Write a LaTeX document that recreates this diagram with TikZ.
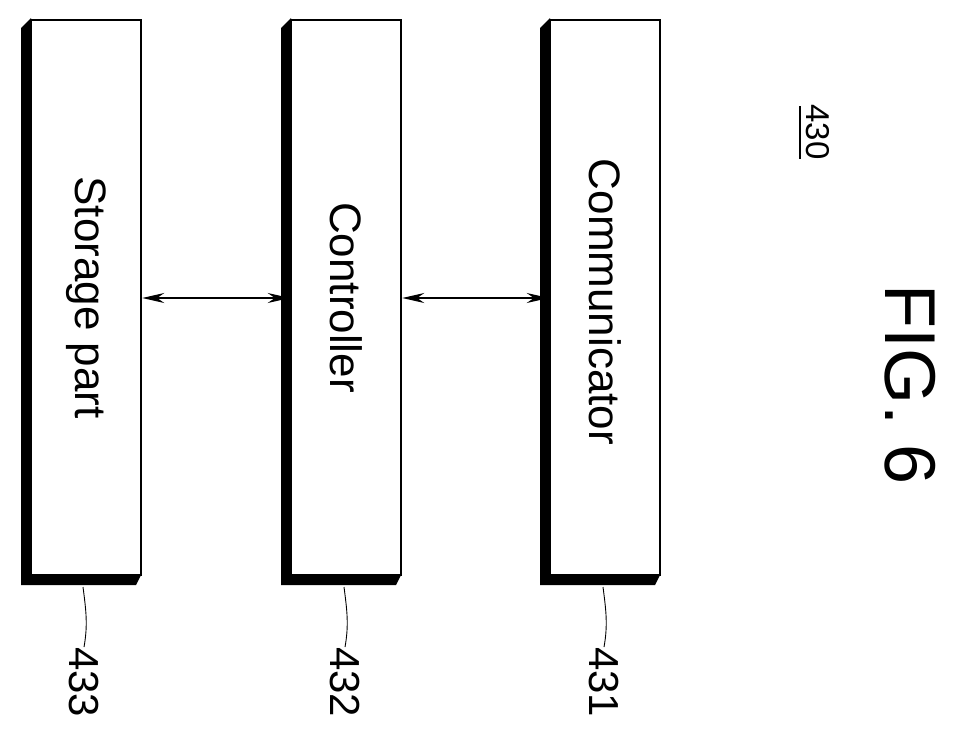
\documentclass[tikz,border=0pt]{standalone}
\usepackage{fontspec}
\setmainfont{Liberation Sans}
\usetikzlibrary{arrows.meta}
\begin{document}
\begin{tikzpicture}[x=1pt,y=-1pt,
  blk/.style={draw,line width=2.5pt,fill=white,minimum width=110pt,minimum height=555pt,inner sep=0pt,
    font=\fontsize{44}{48}\selectfont},
  shd/.style={fill=black},
  lbl/.style={rotate=-90,font=\fontsize{42}{46}\selectfont,inner sep=0pt},
  arr/.style={<->,>={Stealth[length=22pt,width=10pt]},line width=1.3pt}]
\useasboundingbox (0,0) rectangle (958,747);
\foreach \n/\x in {s/86,c/346,m/605}{
  \fill (\x-65,28) -- (\x-55,18) -- (\x-55,575) -- (\x+55,575) -- (\x+50,585) -- (\x-65,585) -- cycle;
}
\node[blk] (s) at (86,297.5) {};
\node[blk] (c) at (346,297.5) {};
\node[blk] (m) at (605,297.5) {};
\node[rotate=-90,font=\fontsize{44}{48}\selectfont] (st) at (s.center) {Storage part};
\node[rotate=-90,font=\fontsize{44}{48}\selectfont] (ct) at (c.center) {Controller};
\node[rotate=-90,font=\fontsize{44}{48}\selectfont] (mt) at (605,302) {Communicator};
\draw[arr] (s.east |- 0,298) -- (c.west |- 0,298);
\draw[arr] (c.east |- 0,298) -- (m.west |- 0,298);
\node[lbl,anchor=west] (l3) at (84,647) {433};
\node[lbl,anchor=west] (l2) at (345,647) {432};
\node[lbl,anchor=west] (l1) at (604,647) {431};
\draw[line width=0.9pt] (83,587) .. controls (86,610) and (88,625) .. (l3.west);
\draw[line width=0.9pt] (344,587) .. controls (347,610) and (349,625) .. (l2.west);
\draw[line width=0.9pt] (603,587) .. controls (606,610) and (608,625) .. (l1.west);
\node[rotate=-90,font=\fontsize{33}{36}\selectfont,inner sep=0pt] (n430) at (818,132) {430};
\draw[line width=1.5pt] (800,106) -- (800,159);
\node[rotate=-90,font=\fontsize{72}{76}\selectfont] (fig) at (910,385) {FIG. 6};
\end{tikzpicture}
\end{document}
